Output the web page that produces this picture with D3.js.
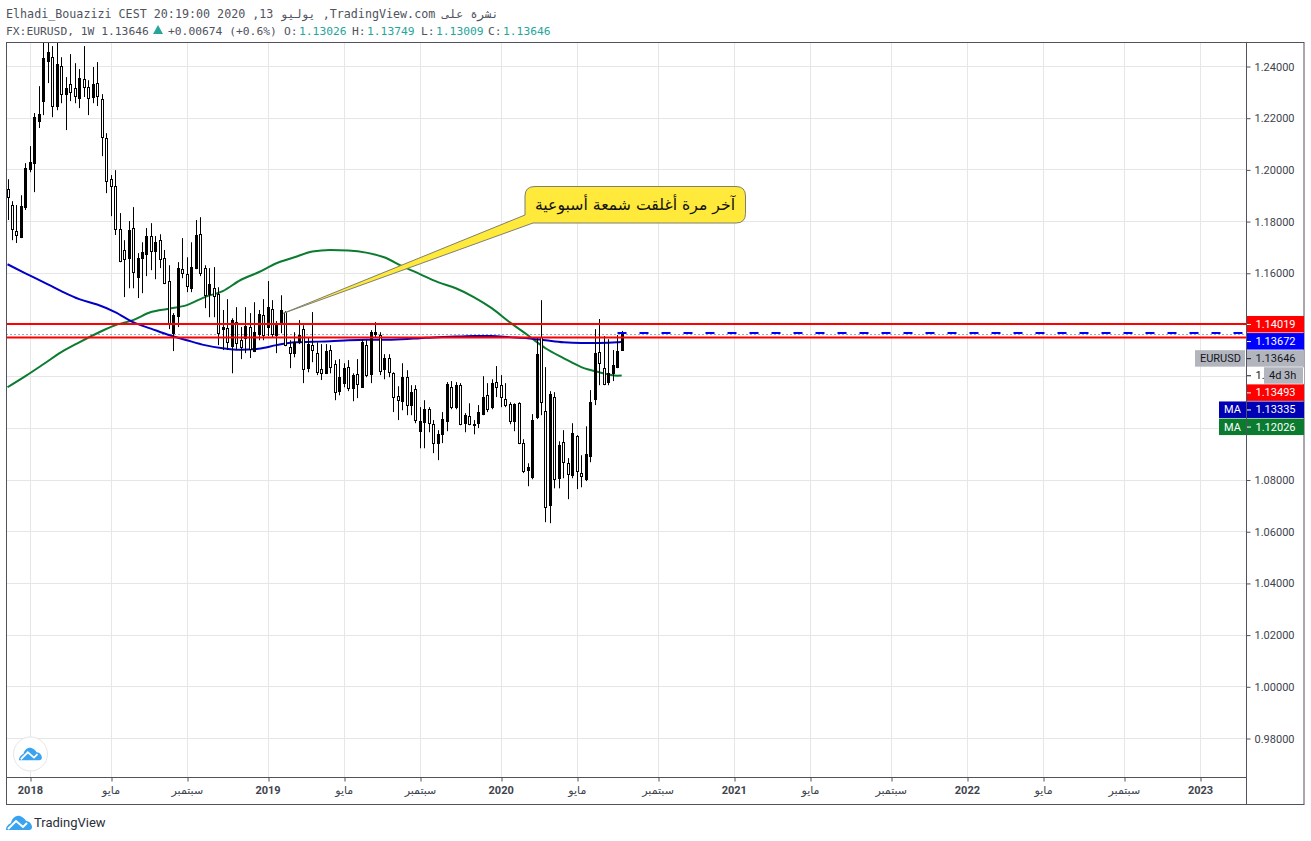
<!DOCTYPE html>
<html>
<head>
<meta charset="utf-8">
<script src="https://cdn.jsdelivr.net/npm/d3@7"></script>
<style>
  html, body { margin: 0; padding: 0; background: #fff; }
  svg { display: block; }
</style>
</head>
<body>
<script>
// EURUSD weekly candles, index 0 is the week of 27 Nov 2017
var opens = [1.1924,1.1862,1.1761,1.1738,1.1854,1.2001,1.2024,1.2187,1.2264,1.2419,1.2434,1.2245,1.2400,1.2291,1.2330,1.2314,1.2276,1.2349,1.2318,1.2280,1.2334,1.2272,1.2121,1.1962,1.1935,1.1769,1.1688,1.1657,1.1773,1.1583,1.1657,1.1672,1.1742,1.1684,1.1726,1.1657,1.1568,1.1366,1.1432,1.1614,1.1595,1.1540,1.1618,1.1749,1.1618,1.1517,1.1540,1.1517,1.1382,1.1386,1.1316,1.1409,1.1339,1.1347,1.1390,1.1297,1.1362,1.1436,1.1390,1.1459,1.1359,1.1405,1.1448,1.1312,1.1289,1.1331,1.1382,1.1231,1.1320,1.1289,1.1227,1.1211,1.1301,1.1246,1.1142,1.1173,1.1235,1.1153,1.1208,1.1157,1.1320,1.1208,1.1362,1.1359,1.1227,1.1270,1.1211,1.1123,1.1103,1.1196,1.1088,1.1150,1.0987,1.1022,1.1072,1.1014,1.0941,1.0975,1.1026,1.1157,1.1080,1.1165,1.1018,1.1045,1.1010,1.1018,1.1053,1.1126,1.1080,1.1177,1.1165,1.1111,1.1092,1.1026,1.1095,1.0941,1.0836,1.0809,1.1041,1.1351,1.1064,1.0701,1.1119,1.0805,1.0945,1.0863,1.0817,1.0968,1.0825,1.0801,1.0890,1.1111,1.1293,1.1231,1.1177,1.1211,1.1235,1.13026];
var highs = [1.1962,1.1877,1.1862,1.1900,1.2024,1.2090,1.2218,1.2322,1.2516,1.2508,1.2477,1.2500,1.2434,1.2357,1.2446,1.2411,1.2388,1.2477,1.2345,1.2396,1.2415,1.2291,1.2140,1.1978,1.1997,1.1831,1.1726,1.1800,1.1854,1.1676,1.1718,1.1773,1.1792,1.1742,1.1749,1.1688,1.1629,1.1444,1.1641,1.1734,1.1660,1.1718,1.1804,1.1815,1.1629,1.1618,1.1622,1.1544,1.1456,1.1498,1.1424,1.1467,1.1390,1.1467,1.1444,1.1486,1.1456,1.1498,1.1568,1.1494,1.1413,1.1513,1.1451,1.1339,1.1370,1.1417,1.1397,1.1351,1.1448,1.1331,1.1324,1.1324,1.1320,1.1262,1.1266,1.1250,1.1262,1.1211,1.1266,1.1343,1.1339,1.1378,1.1409,1.1370,1.1285,1.1285,1.1215,1.1161,1.1250,1.1223,1.1165,1.1165,1.1080,1.1107,1.1080,1.1030,1.0991,1.1061,1.1177,1.1181,1.1177,1.1173,1.1057,1.1095,1.1030,1.1088,1.1200,1.1173,1.1188,1.1239,1.1204,1.1173,1.1099,1.1095,1.1099,1.0956,1.0863,1.1053,1.1351,1.1494,1.1235,1.1142,1.1138,1.0948,1.0991,1.0883,1.1018,1.0972,1.0894,1.1006,1.1146,1.1382,1.1421,1.1355,1.1343,1.1301,1.1359,1.13749];
var lows = [1.1804,1.1726,1.1715,1.1734,1.1843,1.1989,1.1912,1.2160,1.2210,1.2334,1.2202,1.2229,1.2256,1.2152,1.2264,1.2256,1.2237,1.2280,1.2210,1.2256,1.2245,1.2051,1.1908,1.1819,1.1746,1.1641,1.1506,1.1540,1.1540,1.1502,1.1521,1.1587,1.1610,1.1575,1.1618,1.1556,1.1382,1.1297,1.1390,1.1579,1.1525,1.1525,1.1614,1.1587,1.1463,1.1428,1.1428,1.1320,1.1301,1.1301,1.1211,1.1301,1.1266,1.1289,1.1270,1.1293,1.1339,1.1339,1.1355,1.1351,1.1289,1.1366,1.1316,1.1231,1.1273,1.1324,1.1173,1.1215,1.1254,1.1204,1.1185,1.1208,1.1211,1.1107,1.1126,1.1157,1.1142,1.1103,1.1115,1.1157,1.1196,1.1173,1.1351,1.1204,1.1188,1.1196,1.1061,1.1030,1.1068,1.1049,1.1049,1.1018,1.0921,1.0921,1.0983,1.0902,1.0875,1.0941,1.0987,1.1072,1.1072,1.1010,1.0983,1.1010,1.0975,1.0999,1.1049,1.1061,1.1072,1.1119,1.1080,1.1080,1.1014,1.0987,1.0937,1.0825,1.0774,1.0801,1.1034,1.1049,1.0635,1.0631,1.0766,1.0766,1.0805,1.0724,1.0805,1.0763,1.0770,1.0794,1.0867,1.1088,1.1165,1.1165,1.1165,1.1181,1.1231,1.13009];
var closes = [1.1893,1.1769,1.1746,1.1858,1.2005,1.2028,1.2202,1.2214,1.2431,1.2454,1.2245,1.2407,1.2291,1.2314,1.2299,1.2283,1.2353,1.2318,1.2276,1.2330,1.2283,1.2125,1.1955,1.1935,1.1769,1.1645,1.1653,1.1765,1.1602,1.1657,1.1680,1.1742,1.1684,1.1718,1.1653,1.1560,1.1405,1.1436,1.1618,1.1599,1.1548,1.1622,1.1746,1.1599,1.1513,1.1556,1.1510,1.1366,1.1390,1.1331,1.1417,1.1328,1.1312,1.1393,1.1304,1.1370,1.1440,1.1359,1.1467,1.1362,1.1397,1.1456,1.1320,1.1289,1.1331,1.1359,1.1227,1.1324,1.1301,1.1215,1.1211,1.1297,1.1235,1.1138,1.1196,1.1231,1.1153,1.1204,1.1169,1.1331,1.1204,1.1370,1.1370,1.1219,1.1270,1.1215,1.1119,1.1107,1.1196,1.1088,1.1138,1.1030,1.1026,1.1072,1.1018,1.0941,1.0975,1.1034,1.1169,1.1080,1.1165,1.1014,1.1049,1.1014,1.1014,1.1061,1.1119,1.1072,1.1173,1.1157,1.1119,1.1088,1.1026,1.1092,1.0941,1.0832,1.0848,1.1030,1.1285,1.1099,1.0693,1.1130,1.0801,1.0933,1.0867,1.0821,1.0979,1.0832,1.0813,1.0898,1.1099,1.1289,1.1250,1.1169,1.1211,1.1242,1.1297,1.13646];

// moving averages, read at every fourth candle plus the last one
var maWeeks = [0,4,8,12,16,20,24,28,32,36,40,44,48,52,56,60,64,68,72,76,80,84,88,92,96,100,104,108,112,116,120,124,128,132,136,137];
var blueMa = [1.1633,1.1598,1.1564,1.1529,1.1498,1.1477,1.1448,1.1409,1.1384,1.1359,1.1339,1.1320,1.1308,1.1302,1.1306,1.1320,1.1331,1.1333,1.1335,1.1339,1.1341,1.1341,1.1343,1.1347,1.1351,1.1353,1.1355,1.1355,1.1351,1.1347,1.1339,1.1331,1.1328,1.1328,1.1331,1.13335];
var greenMa = [1.1157,1.1200,1.1246,1.1293,1.1331,1.1366,1.1397,1.1417,1.1448,1.1461,1.1475,1.1506,1.1529,1.1572,1.1602,1.1637,1.1660,1.1682,1.1688,1.1686,1.1678,1.1660,1.1626,1.1595,1.1564,1.1540,1.1506,1.1463,1.1409,1.1359,1.1308,1.1270,1.1235,1.1215,1.1202,1.12026];

// axis ticks
var priceTicks = [0.98,1.00,1.02,1.04,1.06,1.08,1.10,1.12,1.14,1.16,1.18,1.20,1.22,1.24];
var timeTickWeeks = [5,23,40,58,75,92,110,127,145,162,179,197,214,231,249,266];
var timeTickLabels = ["2018","مايو","سبتمبر","2019","مايو","سبتمبر","2020","مايو","سبتمبر","2021","مايو","سبتمبر","2022","مايو","سبتمبر","2023"];

// horizontal drawn levels and the labels on the price axis
var redLevels = [1.14019, 1.13493];
var blueLevel = 1.13672;
var lastPrice = 1.13646;
var axisLabelValues = [1.14019, 1.13672, 1.13646, null, 1.13493, 1.13335, 1.12026];
var axisLabelText = ["1.14019", "1.13672", "1.13646", "1.", "1.13493", "1.13335", "1.12026"];
var axisLabelFill = ["#ff0000", "#0000ff", "#b2b5be", "#ffffff", "#ff0000", "#0000b4", "#0b7b30"];
var axisLabelInk = ["#fff", "#fff", "#131722", "#131722", "#fff", "#fff", "#fff"];
var axisLabelTags = ["", "", "EURUSD", "", "", "MA", "MA"];

var svg = d3.select("body").append("svg")
  .attr("width", 1311)
  .attr("height", 841)
  .style("font-family", "Roboto, sans-serif");

var left = 6, right = 1246, top_ = 43, bottom = 777, outerRight = 1304, outerBottom = 804;
var gridColor = "#e6e6e6", borderColor = "#50535e";

var x = d3.scaleLinear().domain([0, 137]).range([7.5, 621.7]);
var y = d3.scaleLinear().domain([0.98, 1.24]).range([738, 66]);
function px(i) { return Math.round(x(i)) + 0.5; }
function py(v) { return Math.round(y(v)) + 0.5; }

svg.append("defs").append("clipPath").attr("id", "plot")
  .append("rect")
  .attr("x", left).attr("y", top_)
  .attr("width", right - left).attr("height", bottom - top_);

// grid
svg.append("g").selectAll("line").data(priceTicks).enter().append("line")
  .attr("x1", left).attr("x2", right)
  .attr("y1", py).attr("y2", py)
  .attr("stroke", gridColor);
svg.append("g").selectAll("line").data(timeTickWeeks).enter().append("line")
  .attr("x1", px).attr("x2", px)
  .attr("y1", top_).attr("y2", bottom)
  .attr("stroke", gridColor);

var plot = svg.append("g").attr("clip-path", "url(#plot)");

// last price dotted lines
plot.append("line")
  .attr("x1", left).attr("x2", right)
  .attr("y1", py(lastPrice)).attr("y2", py(lastPrice))
  .attr("stroke", "#a3a6af").attr("stroke-dasharray", "2,2");

// moving averages sit under the candles
var maLine = d3.line()
  .x(function (d) { return x(d[0]); })
  .y(function (d) { return y(d[1]); })
  .curve(d3.curveMonotoneX);
plot.append("path")
  .datum(d3.zip(maWeeks, greenMa))
  .attr("d", maLine)
  .attr("fill", "none").attr("stroke", "#0b7b30").attr("stroke-width", 2);
plot.append("path")
  .datum(d3.zip(maWeeks, blueMa))
  .attr("d", maLine)
  .attr("fill", "none").attr("stroke", "#0000c8").attr("stroke-width", 2);

// candles, black ones closed up and hollow ones closed down
var candles = plot.selectAll("g.candle")
  .data(d3.range(opens.length))
  .enter().append("g").attr("class", "candle");
candles.append("line")
  .attr("x1", px).attr("x2", px)
  .attr("y1", function (i) { return y(highs[i]); })
  .attr("y2", function (i) { return y(lows[i]); })
  .attr("stroke", "#000");
candles.append("rect")
  .attr("x", function (i) { return px(i) - 1; })
  .attr("width", 2)
  .attr("y", function (i) { return py(Math.max(opens[i], closes[i])); })
  .attr("height", function (i) { return Math.max(1, py(Math.min(opens[i], closes[i])) - py(Math.max(opens[i], closes[i]))); })
  .attr("fill", function (i) { return closes[i] >= opens[i] ? "#000" : "#fff"; })
  .attr("stroke", "#000");

// drawn levels
plot.selectAll("line.red").data(redLevels).enter().append("line")
  .attr("class", "red")
  .attr("x1", left).attr("x2", right)
  .attr("y1", function (d) { return y(d); }).attr("y2", function (d) { return y(d); })
  .attr("stroke", "#ff0000").attr("stroke-width", 2);
plot.append("line")
  .attr("x1", px(137) - 5).attr("x2", right)
  .attr("y1", y(blueLevel)).attr("y2", y(blueLevel))
  .attr("stroke", "#0000ff").attr("stroke-width", 2)
  .attr("stroke-dasharray", "9,13");

// callout with its tail pointing at the candle
svg.append("path")
  .attr("d", "M535,186.5H736Q745.5,186.5 745.5,196V213.5Q745.5,223 736,223H533L" + x(61.5) + "," + y(1.1443) + "L525,215V196Q525,186.5 535,186.5Z")
  .attr("fill", "#ffe93b")
  .attr("stroke", "#7f7f6e")
  .attr("stroke-width", 1);
svg.append("text")
  .attr("x", 735).attr("y", 210)
  .attr("text-anchor", "start")
  .attr("direction", "rtl")
  .style("font-family", "'DejaVu Sans'")
  .style("font-size", "15.7px")
  .attr("fill", "#111")
  .text("آخر مرة أغلقت شمعة أسبوعية");

// frame
svg.append("rect")
  .attr("x", left + 0.5).attr("y", top_ - 0.5)
  .attr("width", outerRight - left - 0.5).attr("height", outerBottom - top_ + 1)
  .attr("fill", "none").attr("stroke", borderColor);
svg.append("line").attr("x1", right + 0.5).attr("x2", right + 0.5).attr("y1", top_).attr("y2", outerBottom).attr("stroke", borderColor);
svg.append("line").attr("x1", left).attr("x2", right).attr("y1", bottom + 0.5).attr("y2", bottom + 0.5).attr("stroke", borderColor);

// price axis
var priceAxis = d3.axisRight(y)
  .tickValues(priceTicks)
  .tickFormat(d3.format(".5f"))
  .tickSize(4)
  .tickPadding(4);
var priceG = svg.append("g")
  .attr("transform", "translate(" + (right + 0.5) + ",0.5)")
  .call(priceAxis);
priceG.select(".domain").remove();
priceG.selectAll("line").attr("stroke", borderColor);
priceG.selectAll("text").style("font-size", "11px").style("font-family", "Roboto").attr("fill", "#40434d");

// time axis
var timeAxis = d3.axisBottom(x)
  .tickValues(timeTickWeeks)
  .tickFormat(function (d, i) { return timeTickLabels[i]; })
  .tickSize(4)
  .tickPadding(5);
var timeG = svg.append("g")
  .attr("transform", "translate(0," + (bottom + 0.5) + ")")
  .call(timeAxis);
timeG.select(".domain").remove();
timeG.selectAll("line").attr("stroke", borderColor).attr("transform", function (d) { return "translate(" + (px(d) - x(d)) + ",0)"; });
timeG.selectAll("text")
  .style("font-size", "11px")
  .style("font-weight", function (d, i) { return /^\d/.test(timeTickLabels[i]) ? "bold" : "normal"; })
  .style("font-family", function (d, i) { return /^\d/.test(timeTickLabels[i]) ? "Roboto" : "'DejaVu Sans'"; })
  .attr("fill", "#40434d");

// labels on the price axis are pushed down so they stack without overlapping
var labelH = 17.1, labelY = [], prevY = -100;
axisLabelValues.forEach(function (v) {
  var c = v === null ? prevY + labelH : Math.max(y(v), prevY + labelH);
  labelY.push(c);
  prevY = c;
});
var labels = svg.append("g").selectAll("g")
  .data(d3.range(axisLabelText.length))
  .enter().append("g")
  .attr("transform", function (i) { return "translate(0," + labelY[i] + ")"; });
labels.append("rect")
  .attr("x", right + 1).attr("y", -8).attr("width", outerRight - right - 1).attr("height", 16.5)
  .attr("fill", function (i) { return axisLabelFill[i]; });
labels.append("line")
  .attr("x1", right + 1).attr("x2", right + 5)
  .attr("y1", 0.5).attr("y2", 0.5)
  .attr("stroke", function (i) { return axisLabelInk[i]; });
labels.append("text")
  .attr("x", right + 9.5).attr("y", 4)
  .style("font-size", "11px")
  .attr("fill", function (i) { return axisLabelInk[i]; })
  .text(function (i) { return axisLabelText[i]; });
// tag boxes left of the axis
var tags = labels.filter(function (i) { return axisLabelTags[i] !== ""; });
tags.append("rect")
  .attr("x", function (i) { return axisLabelTags[i] === "MA" ? 1219 : 1195; })
  .attr("y", -8)
  .attr("width", function (i) { return axisLabelTags[i] === "MA" ? 27 : 50; })
  .attr("height", 16.5)
  .attr("fill", function (i) { return axisLabelFill[i]; });
tags.append("text")
  .attr("x", 1241).attr("y", 4)
  .attr("text-anchor", "end")
  .style("font-size", "11px")
  .attr("fill", function (i) { return axisLabelInk[i]; })
  .text(function (i) { return axisLabelTags[i]; });

// countdown to the bar close covers the rest of the white label
var countdown = labels.filter(function (i) { return axisLabelValues[i] === null; });
countdown.append("rect")
  .attr("x", 1264).attr("y", -8).attr("width", 39).attr("height", 16.5)
  .attr("fill", "#b2b5be");
countdown.append("text")
  .attr("x", 1269).attr("y", 4)
  .style("font-size", "11px")
  .attr("fill", "#131722")
  .text("4d 3h");

// header lines
var mono = "'DejaVu Sans Mono', monospace";
svg.append("text")
  .attr("x", 6).attr("y", 18)
  .style("font-family", mono).style("font-size", "11.7px")
  .attr("fill", "#50535e")
  .text("Elhadi_Bouazizi CEST 20:19:00 2020 ,13 يوليو ,TradingView.com نشرة على");

var headerParts = [
  { x: 6, t: "FX:EURUSD, 1W 1.13646", c: "#50535e" },
  { x: 168, t: "+0.00674 (+0.6%)", c: "#50535e" },
  { x: 284, t: "O:", c: "#50535e" },
  { x: 299, t: "1.13026", c: "#26a69a" },
  { x: 352, t: "H:", c: "#50535e" },
  { x: 367, t: "1.13749", c: "#26a69a" },
  { x: 421, t: "L:", c: "#50535e" },
  { x: 436, t: "1.13009", c: "#26a69a" },
  { x: 488, t: "C:", c: "#50535e" },
  { x: 503, t: "1.13646", c: "#26a69a" }
];
svg.append("g").selectAll("text").data(headerParts).enter().append("text")
  .attr("x", function (d) { return d.x; })
  .attr("y", 35)
  .style("font-family", mono).style("font-size", "11.3px")
  .attr("fill", function (d) { return d.c; })
  .text(function (d) { return d.t; });
svg.append("path").attr("d", "M153,34L158,25L163,34Z").attr("fill", "#26a69a");

// TradingView cloud logos
function cloud(g, s) {
  g.append("path")
    .attr("transform", "scale(" + s + ")")
    .attr("d", "M0,15C0,11 3,9 5,8C6,3 10,0 14,1C17,2 19,4 20,6C24,6 26,10 26,12C26,14 25,15 23,15Z")
    .attr("fill", "#3aa3f0");
  g.append("path")
    .attr("transform", "scale(" + s + ")")
    .attr("d", "M2,14L10,6L17,12L21,8")
    .attr("fill", "none").attr("stroke", "#fff").attr("stroke-width", 2);
}
svg.append("circle")
  .attr("cx", 30.5).attr("cy", 754).attr("r", 17)
  .attr("fill", "#fff").attr("stroke", "#e6e6e6");
cloud(svg.append("g").attr("transform", "translate(19,747)"), 0.88);
cloud(svg.append("g").attr("transform", "translate(6,815)"), 1);
svg.append("text")
  .attr("x", 34).attr("y", 827)
  .style("font-size", "13px")
  .attr("fill", "#2a2e39")
  .text("TradingView");
</script>
</body>
</html>
